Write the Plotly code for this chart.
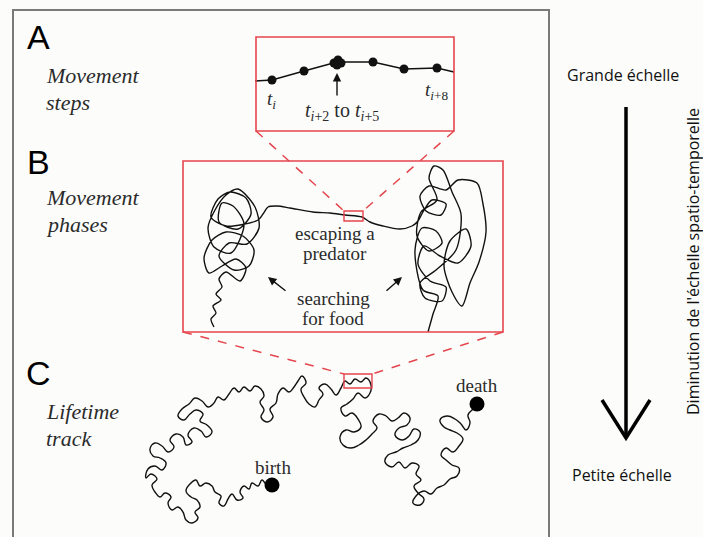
import plotly.graph_objects as go

# ---------------- data (pixel-space coordinates) ----------------
# Panel A: movement steps t_i ... t_i+8
STEP_LABELS = ["t_i", "t_i+1", "t_i+2", "t_i+3", "t_i+4", "t_i+5", "t_i+6", "t_i+7", "t_i+8"]
STEP_X = [272, 304, 334, 338, 341, 337, 373, 404, 437]
STEP_Y = [80, 71, 63, 60, 63, 65, 62, 69, 68]
STEP_LINE_X = [255, 272, 304, 337, 373, 404, 437, 454]
STEP_LINE_Y = [81, 80, 71, 62, 62, 69, 68, 72]

# Panel B: movement phases (search - escape - search)
PHASE_X = [214, 211, 216, 213, 221, 216, 222, 219,
           226, 240, 246, 236, 222, 209, 204, 212, 226, 243, 254, 249, 234, 219, 229, 247, 259, 255,
           238, 226, 215, 208, 214, 231, 244, 233, 222, 219, 238, 251, 246, 230, 218, 211, 226, 258, 263,
           268, 277, 290, 313, 330, 345, 362, 370, 383, 400, 412, 418,
           424, 432, 446, 441, 426, 420, 429, 446, 458, 477, 483, 486, 479, 470, 462, 452, 444, 450, 466,
           471, 458, 440, 424, 418, 430, 446, 442, 425, 420, 436, 456, 461, 452, 443, 434, 429, 437, 421,
           417, 429, 442, 436, 422, 415, 423, 438, 433, 428]
PHASE_Y = [327, 319, 313, 306, 300, 294, 287, 279,
           272, 281, 268, 259, 266, 273, 258, 240, 232, 236, 250, 266, 270, 256, 243, 244, 228, 207,
           189, 195, 210, 228, 247, 253, 224, 206, 203, 222, 229, 214, 198, 192, 199, 217, 226, 220, 214,
           207, 206, 208, 212, 213, 215, 217, 222, 226, 229, 226, 221,
           210, 200, 204, 215, 211, 196, 186, 190, 180, 183, 204, 232, 262, 283, 306, 292, 266, 241, 229,
           246, 263, 256, 246, 264, 281, 287, 301, 298, 283, 270, 250, 214, 192, 170, 166, 178, 200, 212,
           236, 251, 243, 231, 228, 250, 290, 296, 314, 332]

# Panel C: lifetime track from birth to death
LIFE_X = [272, 266, 262, 258, 252, 249, 244, 240, 243, 237, 232, 228, 224, 219, 221, 215, 212, 206, 200, 196,
          190, 186, 191, 197, 200, 195, 198, 192, 186, 183, 178, 172, 168, 171, 165, 160, 155, 152, 157, 151,
          146, 148, 155, 162, 166, 160, 153, 150, 155, 162, 168, 174, 170, 176, 183, 186, 192, 188, 194, 201,
          206, 212, 207, 200, 203, 196, 190, 184, 178, 182, 189, 195, 202, 208, 214, 218, 224, 229, 234, 239,
          244, 250, 255, 261, 264, 260, 264, 261, 267, 273, 270, 276, 278, 283, 289, 294, 298, 302, 306, 301,
          304, 309, 315, 319, 323, 319, 325, 331, 336, 341, 345, 350, 355, 361, 366, 371, 370, 365, 358, 353,
          347, 341, 345, 352, 358, 361, 354, 346, 340, 343, 351, 359, 366, 372, 377, 373, 379, 386, 392, 398,
          404, 410, 407, 399, 395, 402, 409, 414, 420, 418, 411, 403, 396, 388, 385, 392, 399, 405, 412, 419,
          416, 421, 414, 418, 424, 420, 413, 416, 424, 431, 437, 444, 450, 457, 459, 452, 446, 441, 446, 453,
          459, 463, 457, 450, 444, 440, 447, 455, 461, 466, 470, 468, 473, 477]
LIFE_Y = [485, 484, 480, 486, 483, 489, 486, 492, 498, 500, 494, 499, 506, 503, 496, 492, 486, 483, 486, 480,
          484, 491, 497, 500, 507, 512, 518, 523, 520, 512, 507, 510, 503, 497, 493, 497, 492, 485, 479, 474,
          478, 469, 466, 470, 463, 458, 456, 449, 443, 446, 452, 447, 440, 434, 437, 445, 442, 435, 428, 431,
          437, 432, 425, 421, 414, 410, 414, 420, 416, 409, 404, 398, 401, 407, 403, 397, 400, 394, 388, 392,
          387, 391, 386, 389, 396, 402, 410, 417, 422, 417, 409, 403, 394, 388, 392, 387, 381, 376, 383, 389,
          397, 404, 407, 400, 394, 388, 384, 389, 395, 388, 381, 384, 379, 382, 378, 385, 393, 398, 393, 399,
          404, 408, 416, 413, 419, 427, 432, 430, 437, 445, 448, 445, 440, 434, 428, 421, 414, 416, 421, 418,
          413, 418, 425, 428, 435, 440, 436, 429, 432, 440, 445, 448, 452, 455, 462, 467, 462, 468, 463, 466,
          474, 480, 486, 493, 499, 505, 503, 496, 491, 494, 488, 485, 479, 476, 468, 465, 460, 455, 448, 452,
          446, 439, 433, 430, 427, 420, 416, 419, 424, 430, 423, 415, 409, 404]
ENDPOINT_NAMES = ["birth", "death"]
ENDPOINT_X = [272, 477]
ENDPOINT_Y = [485, 404]

# ---------------- figure ----------------
W, H = 703, 537
INK = "#111111"
RED = "#e5454d"
BG = "#fcfdfb"

fig = go.Figure()

fig.add_trace(go.Scatter(x=STEP_LINE_X, y=STEP_LINE_Y, mode="lines",
                         line=dict(color=INK, width=1.4), hoverinfo="skip"))
fig.add_trace(go.Scatter(x=STEP_X, y=STEP_Y, mode="markers", text=STEP_LABELS,
                         marker=dict(color=INK, size=9)))
fig.add_trace(go.Scatter(x=PHASE_X, y=PHASE_Y, mode="lines",
                         line=dict(color=INK, width=1.4, shape="spline", smoothing=0.8)))
fig.add_trace(go.Scatter(x=LIFE_X, y=LIFE_Y, mode="lines",
                         line=dict(color=INK, width=1.4, shape="spline", smoothing=1.2)))
fig.add_trace(go.Scatter(x=ENDPOINT_X, y=ENDPOINT_Y, mode="markers", text=ENDPOINT_NAMES,
                         marker=dict(color="black", size=15)))

shapes = []
# outer frame (bottom runs off the picture)
shapes.append(dict(type="path", path="M13,545 L13,10 L549,10 L549,545",
                   line=dict(color="#7a7a7a", width=2)))
# red boxes
shapes.append(dict(type="rect", x0=256, y0=37, x1=454, y1=131, line=dict(color=RED, width=1.6)))
shapes.append(dict(type="rect", x0=183, y0=161, x1=503, y1=332, line=dict(color=RED, width=1.6)))
shapes.append(dict(type="rect", x0=344, y0=211, x1=363, y1=221, line=dict(color=RED, width=1.4)))
shapes.append(dict(type="rect", x0=344, y0=374, x1=372, y1=388, line=dict(color=RED, width=1.4)))
# dashed zoom lines
for (xa, ya, xb, yb) in [(256, 131, 344, 211), (454, 131, 363, 211),
                         (183, 332, 344, 374), (503, 332, 372, 374)]:
    shapes.append(dict(type="line", x0=xa, y0=ya, x1=xb, y1=yb,
                       line=dict(color=RED, width=1.5, dash="dash")))
# big scale arrow on the right
shapes.append(dict(type="line", x0=626, y0=107, x1=626, y1=437, line=dict(color="black", width=3.5)))
shapes.append(dict(type="path", path="M602,400 L626,438 L650,400", line=dict(color="black", width=3.5)))

for s in shapes:
    s.setdefault("xref", "x")
    s.setdefault("yref", "y")
    s.setdefault("layer", "above")

ann = []
def txt(x, y, t, size, family, color=INK, xanchor="center", angle=0):
    ann.append(dict(x=x, y=y, xref="x", yref="y", text=t, showarrow=False, xanchor=xanchor,
                    yanchor="middle", textangle=angle, font=dict(size=size, family=family, color=color)))

SANS = "Liberation Sans"
SERIF = "Liberation Serif"
RIGHT = "Open Sans"
for letter, yy in [("A", 37), ("B", 162), ("C", 373)]:
    txt(38, yy, letter, 34, SANS, "#000000")
for lines, ys in [(["Movement", "steps"], [75, 102]),
                  (["Movement", "phases"], [197, 224]),
                  (["Lifetime", "track"], [411, 438])]:
    for l, yy in zip(lines, ys):
        txt(44, yy, "<i>" + l + "</i>", 22, SERIF, "#2b2b2b", xanchor="left")

txt(271, 100, "<i>t<sub>i</sub></i>", 19, SERIF, "#2b2b2b")
txt(436, 91, "<i>t<sub>i</sub></i><sub>+8</sub>", 19, SERIF, "#2b2b2b")
txt(342, 111, "<i>t<sub>i</sub></i><sub>+2</sub> to <i>t<sub>i</sub></i><sub>+5</sub>", 20, SERIF, "#2b2b2b")

txt(335, 233, "escaping a", 19, SERIF, "#2b2b2b")
txt(335, 253, "predator", 19, SERIF, "#2b2b2b")
txt(333, 298, "searching", 19, SERIF, "#2b2b2b")
txt(333, 318, "for food", 19, SERIF, "#2b2b2b")
txt(273, 467, "birth", 19, SERIF, "#2b2b2b")
txt(477, 385, "death", 19, SERIF, "#2b2b2b")

txt(623, 75, "Grande échelle", 16, RIGHT, "#111111")
txt(622, 475, "Petite échelle", 16, RIGHT, "#111111")
txt(693, 262, "Diminution de l'échelle spatio-temporelle", 16, RIGHT, "#111111", angle=-90)

# small pointer arrows
for (xt, yt, xs, ys) in [(337, 73, 337, 97), (268, 277, 287, 292), (402, 277, 385, 292)]:
    ann.append(dict(x=xt, y=yt, ax=xs, ay=ys, xref="x", yref="y", axref="x", ayref="y",
                    text="", showarrow=True, arrowhead=2, arrowsize=1.2, arrowwidth=1.4,
                    arrowcolor=INK))

fig.update_layout(
    width=W, height=H, margin=dict(l=0, r=0, t=0, b=0),
    paper_bgcolor=BG, plot_bgcolor=BG, showlegend=False,
    xaxis=dict(range=[0, W], visible=False, fixedrange=True),
    yaxis=dict(range=[H, 0], visible=False, fixedrange=True),
    shapes=shapes, annotations=ann,
)

fig.write_html("out.html", config={"displayModeBar": False},
               post_script="document.body.style.margin='0';document.body.style.padding='0';"
                           "document.body.style.overflow='hidden';"
                           "document.body.style.background='%s';" % BG)
